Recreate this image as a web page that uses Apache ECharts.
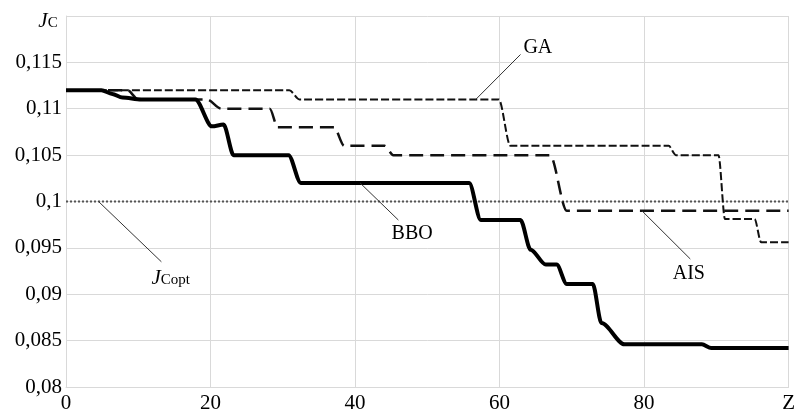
<!DOCTYPE html>
<html><head><meta charset="utf-8">
<script src="https://cdn.jsdelivr.net/npm/echarts/dist/echarts.min.js"></script>
<style>html,body{margin:0;padding:0;background:#fff}#c{width:798px;height:414px}</style>
</head><body><div id="c"></div>
<script>
// ---- data ----
const xTickValues = [0, 20, 40, 60, 80, 100];
const xTickLabels = ['0', '20', '40', '60', '80', 'Z'];
const yTickValues = [0.08, 0.085, 0.09, 0.095, 0.1, 0.105, 0.11, 0.115, 0.12];
const yTickLabels = ['0,08', '0,085', '0,09', '0,095', '0,1', '0,105', '0,11', '0,115', ''];

const bboX = [0, 4.9, 6.4, 7.8, 10.4, 17.9, 20.2, 21.8, 23.2, 30.8, 32.5, 55.8, 57.4, 62.9, 64.3, 66.4, 67.9, 69.3, 72.9, 74.1, 77.3, 88, 89.3, 100];
const bboY = [0.112, 0.112, 0.1116, 0.1112, 0.111, 0.111, 0.1081, 0.1083, 0.105, 0.105, 0.102, 0.102, 0.098, 0.098, 0.0948, 0.0932, 0.0932, 0.0911, 0.0911, 0.0869, 0.0846, 0.0846, 0.0842, 0.0842];

const gaX = [0, 30.9, 32.3, 59.9, 61.5, 83.4, 84.4, 90.3, 91.2, 95.3, 96.2, 100];
const gaY = [0.112, 0.112, 0.111, 0.111, 0.106, 0.106, 0.105, 0.105, 0.0981, 0.0981, 0.0956, 0.0956];

const aisX = [0, 8.5, 10, 19.5, 21.5, 28.2, 29.3, 37.1, 38.5, 44.1, 45.3, 67, 69.3, 100];
const aisY = [0.112, 0.112, 0.111, 0.111, 0.110, 0.110, 0.108, 0.108, 0.106, 0.106, 0.105, 0.105, 0.099, 0.099];

const jcoptX = [0, 100];
const jcoptY = [0.1, 0.1];

// annotation: [leaderFrom, leaderTo, labelCenter] in data units
const annoNames = ['GA', 'BBO', 'AIS', 'JCopt'];
const annoFrom = [[56.7, 0.111], [40.7, 0.102], [79.7, 0.099], [4.5, 0.1]];
const annoTo = [[62.9, 0.11585], [46.0, 0.0980], [86.4, 0.0938], [13.2, 0.0935]];
const annoAt = [[65.3, 0.1166], [47.9, 0.0965], [86.2, 0.0922], [14.5, 0.0917]];

// ---- chart ----
const FONT = 'Liberation Serif';
const zip = (a, b) => a.map((v, i) => [v, b[i]]);
const chart = echarts.init(document.getElementById('c'), null, {renderer: 'canvas'});
const gridColor = '#d9d9d9';

chart.setOption({
  animation: false,
  backgroundColor: '#fff',
  grid: {left: 66, right: 1, top: 16, bottom: 23, containLabel: false},
  xAxis: {
    type: 'value', min: 0, max: 100, interval: 20,
    axisLine: {show: true, lineStyle: {color: gridColor, width: 1}},
    axisTick: {show: false},
    splitLine: {show: true, lineStyle: {color: gridColor, width: 1}},
    axisLabel: {
      fontFamily: FONT, fontSize: 21, color: '#000', margin: 6,
      formatter: v => { const i = xTickValues.findIndex(t => Math.abs(t - v) < 1e-9); return i >= 0 ? xTickLabels[i] : ''; }
    }
  },
  yAxis: {
    type: 'value', min: 0.08, max: 0.12, interval: 0.005,
    axisLine: {show: true, lineStyle: {color: gridColor, width: 1}},
    axisTick: {show: false},
    splitLine: {show: true, lineStyle: {color: gridColor, width: 1}},
    axisLabel: {
      fontFamily: FONT, fontSize: 21, color: '#000', margin: 4,
      formatter: v => { const i = yTickValues.findIndex(t => Math.abs(t - v) < 1e-9); return i >= 0 ? yTickLabels[i] : ''; }
    }
  },
  series: [
    {name: 'JCopt', type: 'line', data: zip(jcoptX, jcoptY), symbol: 'none', z: 2,
      lineStyle: {color: '#555', width: 2, type: [2, 2], cap: 'butt'}},
    {name: 'AIS', type: 'line', data: zip(aisX, aisY), symbol: 'none', smooth: 0.3, smoothMonotone: 'x', z: 3,
      lineStyle: {color: '#111', width: 2.5, type: [14, 7], cap: 'butt'}},
    {name: 'GA', type: 'line', data: zip(gaX, gaY), symbol: 'none', smooth: 0.3, smoothMonotone: 'x', z: 4,
      lineStyle: {color: '#111', width: 2, type: [8, 3], cap: 'butt'}},
    {name: 'BBO', type: 'line', data: zip(bboX, bboY), symbol: 'none', smooth: 0.3, smoothMonotone: 'x', z: 5,
      lineStyle: {color: '#000', width: 4}}
  ]
});

function px(p) { return chart.convertToPixel({gridIndex: 0}, p); }
const graphics = [];
const richStyles = {
  n: {fontFamily: FONT, fontSize: 20, verticalAlign: 'bottom', fill: '#000'},
  j: {fontFamily: FONT, fontSize: 21, fontStyle: 'italic', verticalAlign: 'bottom', fill: '#000'},
  s: {fontFamily: FONT, fontSize: 15, verticalAlign: 'bottom', fill: '#000', padding: [0, 0, 1, 0]}
};
annoNames.forEach((n, i) => {
  const a = px(annoFrom[i]), b = px(annoTo[i]), c = px(annoAt[i]);
  graphics.push({type: 'line', shape: {x1: a[0], y1: a[1], x2: b[0], y2: b[1]}, style: {stroke: '#333', lineWidth: 1}, z: 10});
  const text = n === 'JCopt' ? '{j|J}{s|Copt}' : '{n|' + n + '}';
  graphics.push({type: 'text', x: c[0], y: c[1], z: 11,
    style: {text: text, align: 'center', verticalAlign: 'middle', fill: '#000', fontFamily: FONT, rich: richStyles}});
});
// y-axis title J_C
graphics.push({type: 'text', x: 48, y: 21, z: 11,
  style: {text: '{j|J}{s|C}', align: 'center', verticalAlign: 'middle', fill: '#000', fontFamily: FONT, rich: richStyles}});
chart.setOption({graphic: graphics});
</script>
</body></html>
